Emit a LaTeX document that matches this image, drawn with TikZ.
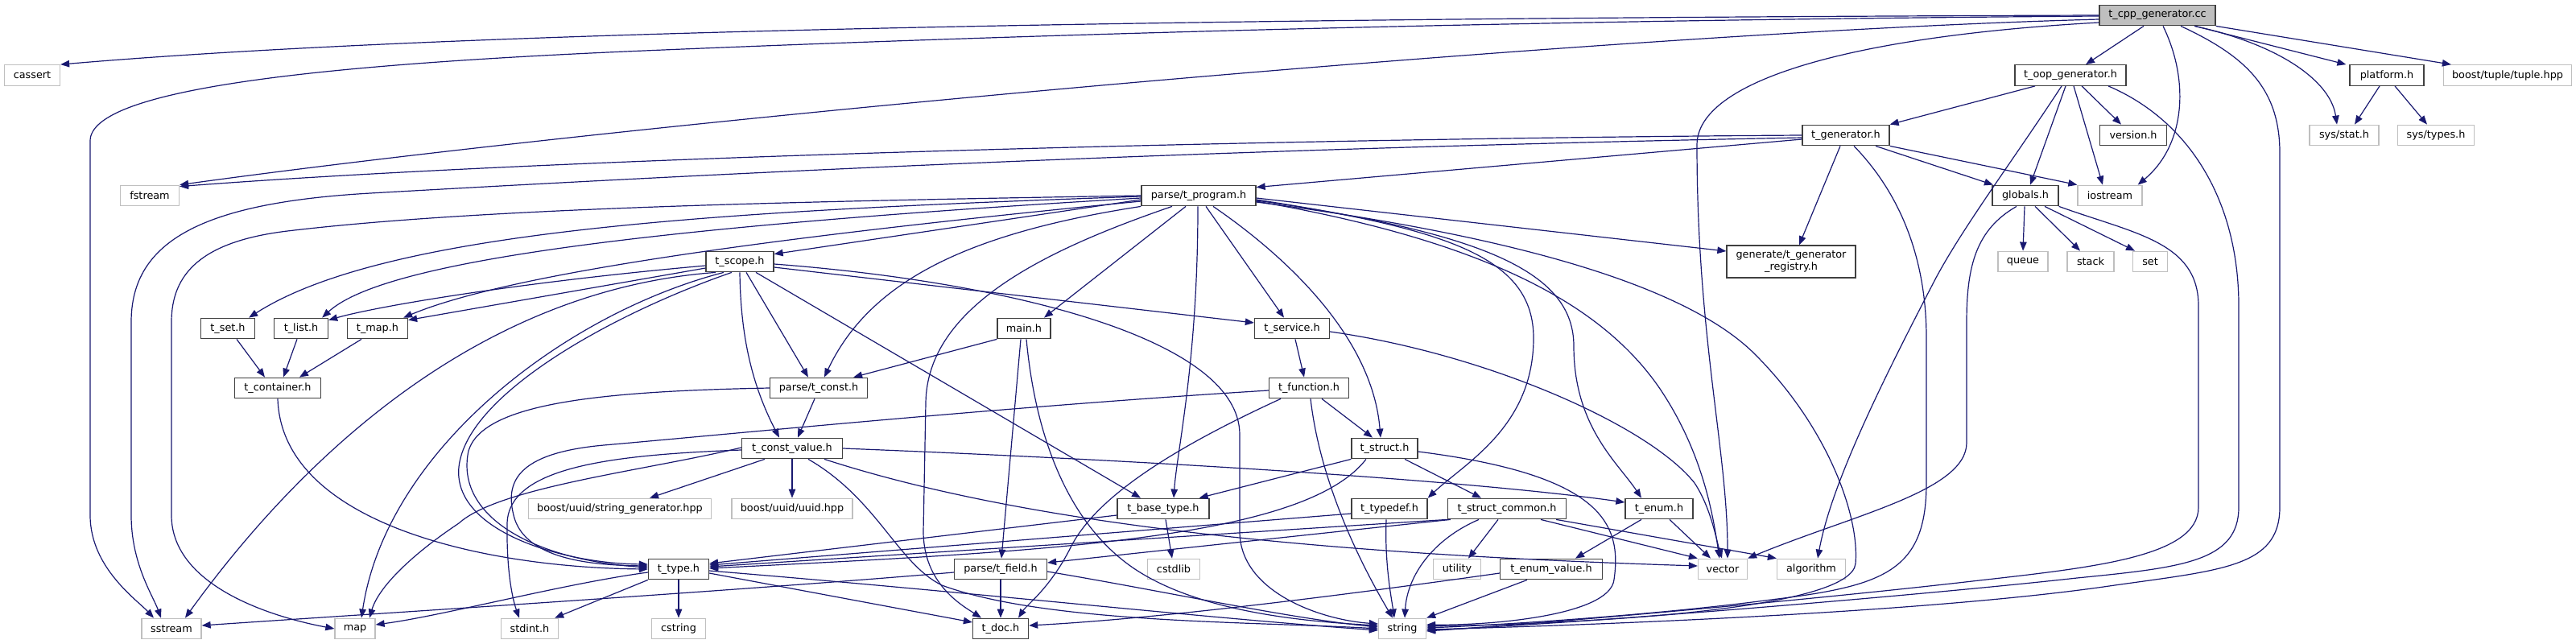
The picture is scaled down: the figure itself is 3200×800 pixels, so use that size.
\documentclass[tikz,border=0pt]{standalone}
\usepackage{fontspec}
\setmainfont{DejaVu Sans}
\usetikzlibrary{arrows.meta}
\definecolor{edgec}{HTML}{191970}
\definecolor{boxc}{HTML}{404040}
\definecolor{greyc}{HTML}{BFBFBF}
\tikzset{
  nd/.style={draw=boxc, line width=1.3pt, fill=white, minimum height=25.5pt, inner sep=0pt,
    font=\fontsize{12.8}{15}\selectfont, text=black},
  doc/.style={nd},
  sys/.style={nd, draw=greyc},
  root/.style={nd, fill=greyc},
  e/.style={draw=edgec, line width=1.2pt, -{Triangle[length=11pt,width=8.5pt]}},
}
\begin{document}
\begin{tikzpicture}[x=1pt,y=-1pt]
\useasboundingbox (0,0) rectangle (3200,800);
% ---------------- nodes ----------------
\node[root, minimum width=144pt] (cc) at (2680,19) {t\_cpp\_generator.cc};
\node[sys, minimum width=69pt] (cassert) at (40,93.5) {cassert};
\node[doc, minimum width=138pt] (toop) at (2572,93.5) {t\_oop\_generator.h};
\node[doc, minimum width=92pt] (platform) at (2965,93.5) {platform.h};
\node[sys, minimum width=159pt] (tuple) at (3115,93.5) {boost/tuple/tuple.hpp};
\node[doc, minimum width=108pt] (tgen) at (2293,168) {t\_generator.h};
\node[doc, minimum width=83pt] (version) at (2650,168) {version.h};
\node[sys, minimum width=86pt] (sysstat) at (2912,168) {sys/stat.h};
\node[sys, minimum width=95pt] (systypes) at (3026,168) {sys/types.h};
\node[sys, minimum width=73pt] (fstream) at (186,243) {fstream};
\node[doc, minimum width=142pt] (tprog) at (1489,243) {parse/t\_program.h};
\node[doc, minimum width=82pt] (globals) at (2516,243) {globals.h};
\node[sys, minimum width=80pt] (iostream) at (2621,243) {iostream};
\node[doc, minimum width=84pt] (tscope) at (919,325) {t\_scope.h};
\node[doc, minimum width=160pt, minimum height=40pt, align=center] (registry) at (2225,325) {generate/t\_generator\\\_registry.h};
\node[sys, minimum width=62pt] (queue) at (2513,325) {queue};
\node[sys, minimum width=58pt] (stack) at (2597,325) {stack};
\node[sys, minimum width=43pt] (set) at (2671,325) {set};
\node[doc, minimum width=67pt] (tset) at (283,408) {t\_set.h};
\node[doc, minimum width=67pt] (tlist) at (374,408) {t\_list.h};
\node[doc, minimum width=75pt] (tmap) at (469,408) {t\_map.h};
\node[doc, minimum width=66pt] (mainh) at (1272,408) {main.h};
\node[doc, minimum width=93pt] (tservice) at (1605,408) {t\_service.h};
\node[doc, minimum width=107pt] (tcontainer) at (345,482) {t\_container.h};
\node[doc, minimum width=121pt] (tconst) at (1017,482) {parse/t\_const.h};
\node[doc, minimum width=99pt] (tfunction) at (1626,482) {t\_function.h};
\node[doc, minimum width=125pt] (tconstvalue) at (984,557) {t\_const\_value.h};
\node[doc, minimum width=82pt] (tstruct) at (1720,557) {t\_struct.h};
\node[sys, minimum width=227pt] (strgen) at (770,632) {boost/uuid/string\_generator.hpp};
\node[sys, minimum width=150pt] (uuid) at (984,632) {boost/uuid/uuid.hpp};
\node[doc, minimum width=114pt] (tbasetype) at (1445,632) {t\_base\_type.h};
\node[doc, minimum width=94pt] (ttypedef) at (1726,632) {t\_typedef.h};
\node[doc, minimum width=147pt] (tstructcommon) at (1872,632) {t\_struct\_common.h};
\node[doc, minimum width=84pt] (tenum) at (2061,632) {t\_enum.h};
\node[doc, minimum width=75pt] (ttype) at (843,707) {t\_type.h};
\node[doc, minimum width=115pt] (tfield) at (1243,707) {parse/t\_field.h};
\node[sys, minimum width=65pt] (cstdlib) at (1458,707) {cstdlib};
\node[sys, minimum width=59pt] (utility) at (1810,707) {utility};
\node[doc, minimum width=127pt] (tenumvalue) at (1927,707) {t\_enum\_value.h};
\node[sys, minimum width=61pt] (vector) at (2140,707) {vector};
\node[sys, minimum width=85pt] (algorithm) at (2250,707) {algorithm};
\node[sys, minimum width=74pt] (sstream) at (213,781) {sstream};
\node[sys, minimum width=50pt] (map) at (441,781) {map};
\node[sys, minimum width=71pt] (stdint) at (658,781) {stdint.h};
\node[sys, minimum width=67pt] (cstring) at (843,781) {cstring};
\node[doc, minimum width=69pt] (tdoc) at (1243,781) {t\_doc.h};
\node[sys, minimum width=59pt] (string) at (1742,781) {string};
% ---------------- edges: t_cpp_generator.cc ----------------
\draw[e] (cc.west) .. controls (1600,22) and (600,35) .. (cassert.north east);
\draw[e] ([yshift=-1]cc.west) .. controls (1900,25) and (1300,42) .. (800,63) .. controls (400,80) and (112,110) .. (112,175) -- (112,640) .. controls (112,705) and (170,745) .. ([xshift=-22]sstream.north);
\draw[e] ([yshift=-5]cc.west) .. controls (2000,40) and (800,150) .. (fstream.north east);
\draw[e] ([yshift=-9]cc.west) .. controls (2300,45) and (2108,100) .. (2108,180) .. controls (2108,420) and (2146,560) .. ([xshift=6]vector.north);
\draw[e] ([xshift=7]cc.south) .. controls (2720,100) and (2715,180) .. ([xshift=-6]iostream.north east);
\draw[e] ([xshift=-17]cc.south) -- ([xshift=19]toop.north);
\draw[e] ([xshift=29]cc.south) .. controls (2790,70) and (2832,110) .. (2832,190) -- (2832,630) .. controls (2832,705) and (2760,708) .. (2620,728) .. controls (2400,760) and (2000,776) .. ([yshift=-1]string.east);
\draw[e] ([xshift=46]cc.south) .. controls (2830,55) and (2895,100) .. ([xshift=-9]sysstat.north);
\draw[e] ([xshift=-26]cc.south east) -- ([xshift=-4]platform.north west);
\draw[e] (cc.south east) -- ([xshift=10]tuple.north west);
% ---------------- t_oop_generator.h ----------------
\draw[e] ([xshift=-44]toop.south) -- (tgen.north east);
\draw[e] ([xshift=-11]toop.south) .. controls (2500,200) and (2440,280) .. (2405,345) .. controls (2340,470) and (2275,600) .. ([xshift=8]algorithm.north);
\draw[e] ([xshift=-6]toop.south) -- ([xshift=6]globals.north);
\draw[e] ([xshift=4]toop.south) -- ([xshift=-9]iostream.north);
\draw[e] ([xshift=14]toop.south) -- ([xshift=-15]version.north);
\draw[e] ([xshift=47]toop.south) .. controls (2720,150) and (2781,250) .. (2781,380) -- (2781,630) .. controls (2781,698) and (2710,705) .. (2580,718) .. controls (2400,738) and (2000,772) .. ([yshift=-2]string.east);
% ---------------- platform.h ----------------
\draw[e] ([xshift=-9]platform.south) -- ([xshift=13]sysstat.north);
\draw[e] ([xshift=10]platform.south) -- ([xshift=-11]systypes.north);
% ---------------- globals.h ----------------
\draw[e] ([xshift=-1]globals.south) -- (queue.north);
\draw[e] ([xshift=12]globals.south) -- ([xshift=-13]stack.north);
\draw[e] ([xshift=24]globals.south) -- ([xshift=-19]set.north);
\draw[e] ([xshift=-11]globals.south) .. controls (2455,285) and (2443,330) .. (2443,400) -- (2443,550) .. controls (2443,610) and (2300,640) .. (vector.north east);
\draw[e] (globals.south east) .. controls (2650,290) and (2731,300) .. (2731,380) -- (2731,630) .. controls (2731,692) and (2600,705) .. (2450,722) .. controls (2250,745) and (1950,772) .. ([yshift=-3]string.east);
% ---------------- t_generator.h ----------------
\draw[e] (tgen.west) .. controls (1600,172) and (700,195) .. ([yshift=-2]fstream.north east);
\draw[e] ([yshift=-3]tgen.west) .. controls (1500,185) and (900,215) .. (460,240) .. controls (250,252) and (163,300) .. (163,400) -- (163,640) .. controls (163,700) and (190,740) .. ([xshift=-13]sstream.north);
\draw[e] ([yshift=-5]tgen.west) -- ([yshift=-3]tprog.north east);
\draw[e] ([xshift=-7]tgen.south) -- ([xshift=10]registry.north);
\draw[e] ([xshift=10]tgen.south) .. controls (2360,240) and (2393,320) .. (2393,420) -- (2393,600) .. controls (2393,710) and (2340,728) .. (2200,745) .. controls (2050,765) and (1850,777) .. ([yshift=1]string.east);
\draw[e] ([xshift=37]tgen.south) -- ([xshift=-40]globals.north);
\draw[e] (tgen.south east) -- (iostream.north west);
% ---------------- parse/t_program.h ----------------
\draw[e] ([yshift=-5]tprog.west) -- ([yshift=-4]tscope.north east);
\draw[e] (tprog.west) .. controls (1000,250) and (600,258) .. (357,287) .. controls (250,300) and (213,340) .. (213,400) -- (213,640) .. controls (213,725) and (330,765) .. (map.west);
\draw[e] ([yshift=-1]tprog.west) .. controls (900,262) and (480,285) .. ([xshift=-8]tset.north east);
\draw[e] ([yshift=-3]tprog.west) .. controls (750,285) and (470,330) .. ([xshift=-8]tlist.north east);
\draw[e] ([yshift=-7]tprog.west) .. controls (900,300) and (620,345) .. ([xshift=-6]tmap.north east);
\draw[e] ([xshift=-16]tprog.south) -- ([xshift=25]mainh.north);
\draw[e] (tprog.south west) .. controls (1200,290) and (1080,350) .. ([xshift=7]tconst.north);
\draw[e] ([xshift=-33]tprog.south) .. controls (1300,310) and (1152,380) .. (1150,500) -- (1147,660) .. controls (1147,725) and (1195,752) .. ([xshift=-24]tdoc.north);
\draw[e] ([xshift=-1]tprog.south) .. controls (1488,450) and (1462,560) .. ([xshift=13]tbasetype.north);
\draw[e] ([xshift=9]tprog.south) -- ([xshift=-10]tservice.north);
\draw[e] ([xshift=18]tprog.south) .. controls (1600,320) and (1705,420) .. ([xshift=-5]tstruct.north);
\draw[e] ([yshift=-3]tprog.east) -- ([yshift=13]registry.west);
\draw[e] ([yshift=-5]tprog.east) .. controls (1800,285) and (1905,320) .. (1905,420) .. controls (1905,530) and (1820,575) .. (ttypedef.north east);
\draw[e] ([yshift=-6]tprog.east) .. controls (1850,290) and (1955,340) .. (1955,430) .. controls (1955,530) and (2010,575) .. ([xshift=-22]tenum.north);
\draw[e] ([yshift=-7]tprog.east) .. controls (1850,300) and (1990,380) .. (2060,480) .. controls (2115,560) and (2128,640) .. ([xshift=-4]vector.north);
\draw[e] ([yshift=-8]tprog.east) .. controls (1900,295) and (2100,360) .. (2180,440) .. controls (2270,530) and (2310,640) .. (2305,700) .. controls (2300,755) and (2000,774) .. ([yshift=3]string.east);
% ---------------- t_scope.h ----------------
\draw[e] ([yshift=-5]tscope.west) .. controls (650,350) and (470,380) .. ([yshift=-3]tlist.north east);
\draw[e] ([yshift=-8]tscope.west) -- ([yshift=-3]tmap.north east);
\draw[e] ([xshift=-30]tscope.south) .. controls (600,360) and (380,560) .. ([xshift=17]sstream.north);
\draw[e] ([xshift=-20]tscope.south) .. controls (700,390) and (480,560) .. ([xshift=8]map.north);
\draw[e] ([xshift=-10]tscope.south) .. controls (760,390) and (580,490) .. (570,580) .. controls (562,660) and (700,700) .. ([yshift=6]ttype.west);
\draw[e] (tscope.south) .. controls (920,420) and (935,480) .. ([xshift=-16]tconstvalue.north);
\draw[e] ([xshift=8]tscope.south) -- ([xshift=-13]tconst.north);
\draw[e] ([xshift=20]tscope.south) -- ([xshift=-28]tbasetype.north);
\draw[e] ([yshift=-7]tscope.east) -- ([yshift=7]tservice.west);
\draw[e] ([yshift=-3]tscope.east) .. controls (1250,350) and (1540,420) .. (1540,540) -- (1540,660) .. controls (1540,735) and (1640,770) .. ([yshift=6]string.west);
% ---------------- containers ----------------
\draw[e] ([xshift=11]tset.south) -- ([xshift=-16]tcontainer.north);
\draw[e] ([xshift=-5]tlist.south) -- ([xshift=7]tcontainer.north);
\draw[e] ([xshift=-20]tmap.south) -- ([xshift=27]tcontainer.north);
\draw[e] (tcontainer.south) .. controls (350,650) and (600,705) .. (ttype.west);
% ---------------- main.h ----------------
\draw[e] (mainh.south west) -- ([xshift=-18]tconst.north east);
\draw[e] ([xshift=-4]mainh.south) -- ([xshift=1]tfield.north);
\draw[e] ([xshift=3]mainh.south) .. controls (1285,530) and (1320,640) .. (1400,700) .. controls (1480,760) and (1620,772) .. ([yshift=4]string.west);
% ---------------- parse/t_const.h ----------------
\draw[e] ([xshift=-5]tconst.south) -- ([xshift=7]tconstvalue.north);
\draw[e] (tconst.west) .. controls (750,486) and (600,500) .. (582,560) .. controls (565,640) and (660,695) .. ([yshift=2]ttype.west);
% ---------------- t_service.h ----------------
\draw[e] ([xshift=4]tservice.south) -- ([xshift=-6]tfunction.north);
\draw[e] ([yshift=-4]tservice.east) .. controls (1850,440) and (2050,530) .. (2105,600) .. controls (2125,630) and (2132,670) .. ([xshift=-1]vector.north);
% ---------------- t_function.h ----------------
\draw[e] ([xshift=16]tfunction.south) -- ([xshift=-15]tstruct.north);
\draw[e] ([yshift=-3]tfunction.west) .. controls (1250,505) and (900,540) .. (750,553) .. controls (640,563) and (628,600) .. (638,640) .. controls (650,690) and (720,702) .. ([yshift=4]ttype.west);
\draw[e] ([xshift=2]tfunction.south) .. controls (1640,600) and (1690,700) .. ([xshift=-12]string.north);
\draw[e] ([xshift=-35]tfunction.south) .. controls (1450,560) and (1360,620) .. (1330,680) .. controls (1305,730) and (1275,752) .. ([xshift=22]tdoc.north);
% ---------------- t_const_value.h ----------------
\draw[e] ([xshift=-34]tconstvalue.south) -- ([xshift=37]strgen.north);
\draw[e] (tconstvalue.south) -- (uuid.north);
\draw[e] ([xshift=20]tconstvalue.south) .. controls (1090,620) and (1115,700) .. (1170,727) .. controls (1300,775) and (1560,772) .. (string.west);
\draw[e] ([xshift=40]tconstvalue.south) .. controls (1300,660) and (1700,690) .. ([yshift=4]vector.west);
\draw[e] (tconstvalue.east) .. controls (1500,575) and (1850,600) .. ([yshift=8]tenum.west);
\draw[e] ([yshift=1]tconstvalue.west) .. controls (800,585) and (620,605) .. (570,650) .. controls (510,690) and (470,730) .. ([xshift=18]map.north);
\draw[e] ([yshift=-2]tconstvalue.west) .. controls (760,565) and (632,580) .. (630,650) .. controls (629,715) and (638,748) .. ([xshift=-13]stdint.north);
% ---------------- t_struct.h ----------------
\draw[e] (tstruct.south west) -- ([xshift=-13]tbasetype.north east);
\draw[e] ([xshift=-23]tstruct.south) .. controls (1620,670) and (1300,685) .. ([yshift=1]ttype.east);
\draw[e] ([xshift=25]tstruct.south) -- ([xshift=-32]tstructcommon.north);
\draw[e] ([yshift=-4]tstruct.east) .. controls (1990,590) and (2015,650) .. (2005,720) .. controls (2000,765) and (1850,777) .. ([yshift=5]string.east);
% ---------------- t_base_type.h / t_typedef.h ----------------
\draw[e] ([yshift=-8]tbasetype.west) -- ([yshift=7]ttype.east);
\draw[e] ([xshift=3]tbasetype.south) -- ([xshift=-2]cstdlib.north);
\draw[e] ([yshift=-6]ttypedef.west) -- ([yshift=5]ttype.east);
\draw[e] ([xshift=-4]ttypedef.south) .. controls (1720,700) and (1728,740) .. ([xshift=-10]string.north);
% ---------------- t_struct_common.h ----------------
\draw[e] (tstructcommon.south west) -- ([yshift=3]ttype.east);
\draw[e] ([xshift=4]tstructcommon.south west) -- ([yshift=8]tfield.east);
\draw[e] ([xshift=-11]tstructcommon.south) -- ([xshift=14]utility.north);
\draw[e] ([xshift=-35]tstructcommon.south) .. controls (1780,670) and (1748,715) .. ([xshift=3]string.north);
\draw[e] ([xshift=42]tstructcommon.south) -- (vector.north west);
\draw[e] ([xshift=-13]tstructcommon.south east) -- (algorithm.north west);
% ---------------- t_enum.h ----------------
\draw[e] ([xshift=-22]tenum.south) -- ([xshift=30]tenumvalue.north);
\draw[e] ([xshift=13]tenum.south) -- ([xshift=-15]vector.north);
% ---------------- t_type.h ----------------
\draw[e] ([yshift=-4]ttype.west) .. controls (700,725) and (550,765) .. ([yshift=5]map.east);
\draw[e] (ttype.south west) -- ([xshift=-5]stdint.north east);
\draw[e] (ttype.south) -- (cstring.north);
\draw[e] ([yshift=-5]ttype.east) -- ([yshift=8]tdoc.west);
\draw[e] ([yshift=-2]ttype.east) .. controls (1200,735) and (1500,768) .. ([yshift=-2]string.west);
% ---------------- parse/t_field.h ----------------
\draw[e] ([yshift=-4]tfield.west) .. controls (900,735) and (500,760) .. ([yshift=4]sstream.east);
\draw[e] (tfield.south) -- (tdoc.north);
\draw[e] ([yshift=-3]tfield.east) .. controls (1450,735) and (1600,768) .. ([yshift=2]string.west);
% ---------------- t_enum_value.h ----------------
\draw[e] ([yshift=-5]tenumvalue.west) .. controls (1700,735) and (1450,768) .. ([yshift=4]tdoc.east);
\draw[e] ([xshift=-30]tenumvalue.south) -- (string.north east);
\end{tikzpicture}
\end{document}
